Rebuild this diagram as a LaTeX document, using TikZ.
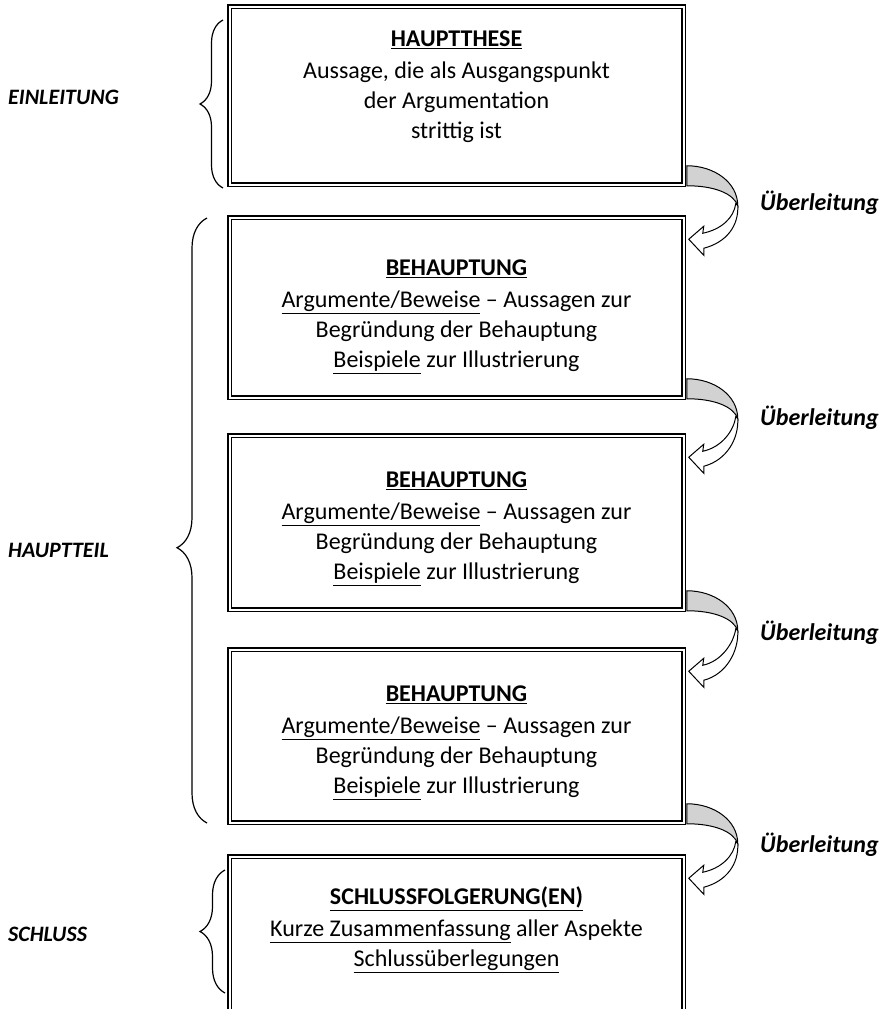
\documentclass[tikz,border=0pt]{standalone}
\usepackage{fontspec}
\setmainfont{Carlito}
\usetikzlibrary{calc,decorations.pathreplacing}

% curved "Ueberleitung" arrow from the lower right corner of #1 to the upper right corner of #2
\newcommand{\ueberpfeil}[2]{%
  \coordinate (u) at ($(#1.south east)+(2.5,2.5)$);
  \coordinate (l) at ($(#2.north east)+(2.5,-2.5)$);
  \filldraw[band] ($(u)+(0,-22)$) .. controls ($(u)+(28,-22)$) and ($(u)+(51,-5)$) .. ($(u)+(51,18)$)
    .. controls ($(u)+(47,6)$) and ($(u)+(28,-2)$) .. ($(u)+(0,-2)$) -- cycle;
  \filldraw[head] ($(u)+(49,16)$) .. controls ($(u)+(47,30)$) and ($(l)+(35,15)$) .. ($(l)+(16,19)$)
    -- ($(l)+(17,12)$) -- ($(l)+(2,25)$) -- ($(l)+(17,41)$) -- ($(l)+(17,34)$)
    .. controls ($(l)+(40,28)$) and ($(u)+(52,38)$) .. ($(u)+(51,18)$) -- cycle;
}

\begin{document}
\begin{tikzpicture}[
    x=1pt, y=-1pt,
    box/.style={draw, double, double distance=2pt, line width=1.5pt, fill=white,
      minimum width=454pt, inner sep=0pt},
    txt/.style={anchor=north, inner sep=0pt, align=center,
      font=\fontsize{24pt}{30pt}\selectfont},
    part/.style={anchor=west, inner sep=0pt, font=\fontsize{22pt}{26pt}\selectfont\bfseries\itshape},
    link/.style={anchor=west, inner sep=0pt, font=\fontsize{24pt}{28pt}\selectfont\bfseries\itshape},
    band/.style={fill=gray!35, draw=black, line width=1pt},
    head/.style={fill=white, draw=black, line width=1pt},
    brc/.style={decorate, line width=1.2pt}
]
\useasboundingbox (0,0) rectangle (887,1009);
\clip (0,0) rectangle (887,1009);

% Boxes
\node[box, minimum height=178pt] (these) at (456.5,95.5) {};
\node[box, minimum height=180pt] (beh1) at (456.5,307.5) {};
\node[box, minimum height=174pt] (beh2) at (456.5,522.5) {};
\node[box, minimum height=173pt] (beh3) at (456.5,736) {};
\node[box, minimum height=177pt] (schluss) at (456.5,945) {};

% Box texts
\node[txt] (these-t) at ($(these.north)+(0,25)$)
  {\underline{\textbf{HAUPTTHESE}}\\[2pt]Aussage, die als Ausgangspunkt\\der Argumentation\\strittig ist};
\node[txt] (beh1-t) at ($(beh1.north)+(0,43)$)
  {\underline{\textbf{BEHAUPTUNG}}\\[2pt]\underline{Argumente/Beweise} – Aussagen zur\\Begründung der Behauptung\\\underline{Beispiele} zur Illustrierung};
\node[txt] (beh2-t) at ($(beh2.north)+(0,37)$)
  {\underline{\textbf{BEHAUPTUNG}}\\[2pt]\underline{Argumente/Beweise} – Aussagen zur\\Begründung der Behauptung\\\underline{Beispiele} zur Illustrierung};
\node[txt] (beh3-t) at ($(beh3.north)+(0,37)$)
  {\underline{\textbf{BEHAUPTUNG}}\\[2pt]\underline{Argumente/Beweise} – Aussagen zur\\Begründung der Behauptung\\\underline{Beispiele} zur Illustrierung};
\node[txt] (schluss-t) at ($(schluss.north)+(0,31)$)
  {\underline{\textbf{SCHLUSSFOLGERUNG(EN)}}\\[2pt]\underline{Kurze Zusammenfassung} aller Aspekte\\\underline{Schlussüberlegungen}};

% Arrows
\ueberpfeil{these}{beh1}
\ueberpfeil{beh1}{beh2}
\ueberpfeil{beh2}{beh3}
\ueberpfeil{beh3}{schluss}

% Arrow labels
\node[link] (ue1) at (760,203) {Überleitung};
\node[link] (ue2) at (760,418) {Überleitung};
\node[link] (ue3) at (760,633) {Überleitung};
\node[link] (ue4) at (760,845) {Überleitung};

% Braces
\draw[brc, decoration={brace, amplitude=23pt}] (223,188) -- (223,20);
\draw[brc, decoration={brace, amplitude=30pt, aspect=0.455}] (207,823) -- (207,218);
\draw[brc, decoration={brace, amplitude=25pt}] (225,993) -- (225,870);

% Parts
\node[part] (einl) at (8,97) {EINLEITUNG};
\node[part] (haupt) at (8,550) {HAUPTTEIL};
\node[part] (schl) at (8,934) {SCHLUSS};

\end{tikzpicture}
\end{document}
